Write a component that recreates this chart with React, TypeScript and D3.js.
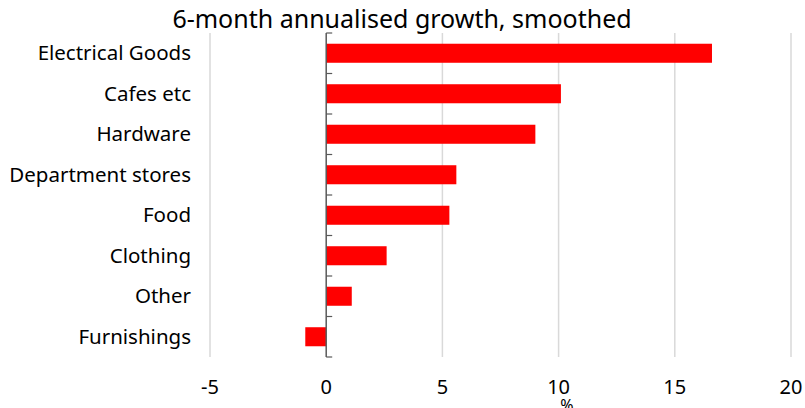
import React from "react";
import * as d3 from "d3";

const categories = ["Electrical Goods", "Cafes etc", "Hardware", "Department stores", "Food", "Clothing", "Other", "Furnishings"];
const values = [16.6, 10.1, 9.0, 5.6, 5.3, 2.6, 1.1, -0.9];
const xTicks = [-5, 0, 5, 10, 15, 20];
const title = "6-month annualised growth, smoothed";
const unitLabel = "%";

const W = 805, H = 408;
const FONT = "'Noto Sans', sans-serif";

export default function App() {
  const x = d3.scaleLinear().domain([-5, 20]).range([210, 791]);
  const y = d3.scaleBand().domain(categories).range([33, 357]).paddingInner(0.53).paddingOuter(0.265);
  const top = 33, bottom = 357;
  const boundaries = d3.range(categories.length + 1).map(i => top + i * ((bottom - top) / categories.length));
  return (
    <svg width={W} height={H} style={{ position: "absolute", left: 0, top: 0, background: "#fff" }} fontFamily={FONT}>
      <text x={402} y={28} textAnchor="middle" fontSize={25} fill="#000">{title}</text>
      {xTicks.filter(t => t !== 0).map(t => (
        <line key={t} x1={x(t)} x2={x(t)} y1={top} y2={bottom} stroke="#d9d9d9" strokeWidth={1.5} />
      ))}
      {categories.map((c, i) => {
        const v = values[i];
        return (
          <rect key={c} x={Math.min(x(0), x(v))} y={y(c)!} width={Math.abs(x(v) - x(0))} height={y.bandwidth()} fill="#ff0000" />
        );
      })}
      <line x1={x(0)} x2={x(0)} y1={top} y2={bottom} stroke="#595959" strokeWidth={1.5} />
      {boundaries.map((b, i) => (
        <line key={i} x1={x(0)} x2={x(0) + 6} y1={b} y2={b} stroke="#595959" strokeWidth={1.2} />
      ))}
      {categories.map(c => (
        <text key={c} x={191} y={y(c)! + y.bandwidth() / 2} dy="0.35em" textAnchor="end" fontSize={20.5} fill="#000">{c}</text>
      ))}
      {xTicks.map(t => (
        <text key={t} x={x(t)} y={387} dy="0.35em" textAnchor="middle" fontSize={20} fill="#000">{t}</text>
      ))}
      <text x={567} y={405} dy="0.35em" textAnchor="middle" fontSize={16} fill="#000">{unitLabel}</text>
    </svg>
  );
}
